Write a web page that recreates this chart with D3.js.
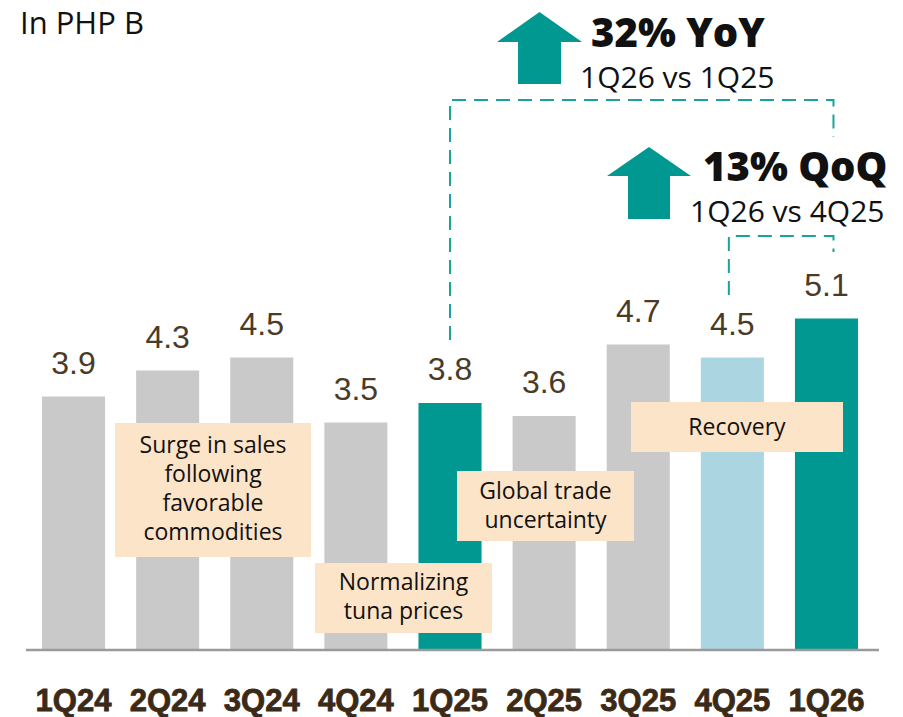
<!DOCTYPE html>
<html>
<head>
  <meta charset="utf-8">
  <title>Sales by quarter</title>
  <script src="https://cdn.jsdelivr.net/npm/d3@7"></script>
  <style>
    body { margin: 0; background: #fff; }
    .val { font-family: "Liberation Sans", Arial, sans-serif; font-size: 32px; fill: #4a3a26; }
    .cat text { font-family: "Liberation Sans", Arial, sans-serif; font-size: 31px; font-weight: bold; fill: #3b2a17; stroke: #3b2a17; stroke-width: 0.8px; }
    .note { font-family: "Open Sans", "Noto Sans", sans-serif; font-size: 23px; fill: #111; }
    .head { font-family: "Open Sans", "Noto Sans", sans-serif; fill: #111; }
  </style>
</head>
<body>
<script>
  // data
  var quarters = ["1Q24", "2Q24", "3Q24", "4Q24", "1Q25", "2Q25", "3Q25", "4Q25", "1Q26"];
  var sales = [3.9, 4.3, 4.5, 3.5, 3.8, 3.6, 4.7, 4.5, 5.1];
  var barKind = ["past", "past", "past", "past", "yearAgo", "past", "past", "lastQ", "current"];
  var noteLines = [
    ["Surge in sales", "following", "favorable", "commodities"],
    ["Normalizing", "tuna prices"],
    ["Global trade", "uncertainty"],
    ["Recovery"]
  ];
  var growthLabels = ["32% YoY", "1Q26 vs 1Q25", "13% QoQ", "1Q26 vs 4Q25"];

  var width = 903, height = 717;
  var teal = "#009891";
  var colors = { past: "#c9c9c9", yearAgo: teal, lastQ: "#abd5e0", current: teal };

  var svg = d3.select("body").append("svg")
    .attr("width", width)
    .attr("height", height);

  var x = d3.scaleBand()
    .domain(quarters)
    .range([42, 858])
    .paddingInner(0.33)
    .paddingOuter(0);

  var y = d3.scaleLinear()
    .domain([0, 10])
    .range([650, 0]);

  var cx = function(q) { return x(q) + x.bandwidth() / 2; };

  // unit label
  svg.append("text")
    .attr("class", "head")
    .attr("x", 20)
    .attr("y", 34)
    .style("font-size", "31px")
    .text("In PHP B");

  // bars
  svg.selectAll("rect.bar")
    .data(quarters)
    .enter()
    .append("rect")
    .attr("class", "bar")
    .attr("x", function(d) { return x(d); })
    .attr("width", x.bandwidth())
    .attr("y", function(d, i) { return y(sales[i]); })
    .attr("height", function(d, i) { return y(0) - y(sales[i]); })
    .attr("fill", function(d, i) { return colors[barKind[i]]; });

  // value labels
  svg.selectAll("text.val")
    .data(quarters)
    .enter()
    .append("text")
    .attr("class", "val")
    .attr("x", function(d) { return cx(d); })
    .attr("y", function(d, i) { return y(sales[i]) - 23; })
    .attr("text-anchor", "middle")
    .text(function(d, i) { return sales[i].toFixed(1); });

  // baseline
  svg.append("line")
    .attr("x1", 26).attr("x2", 879)
    .attr("y1", y(0)).attr("y2", y(0))
    .attr("stroke", "#9a9a9a")
    .attr("stroke-width", 2.5);

  // category axis
  var xAxis = d3.axisBottom(x).tickSize(0);
  var gx = svg.append("g")
    .attr("class", "cat")
    .attr("transform", "translate(0," + y(0) + ")")
    .call(xAxis);
  gx.select(".domain").remove();
  gx.selectAll("text").attr("y", 61).attr("dy", 0);

  // annotation boxes
  var boxes = [
    { x0: 115, x1: 311, y0: 423, y1: 557, base: 453, lh: 29 },
    { x0: 315, x1: 492, y0: 563, y1: 633, base: 590, lh: 29 },
    { x0: 457, x1: 634, y0: 471, y1: 541, base: 499, lh: 29 },
    { x0: 631, x1: 843, y0: 402, y1: 452, base: 435, lh: 29 }
  ];
  boxes.forEach(function(b, i) {
    svg.append("rect")
      .attr("x", b.x0).attr("y", b.y0)
      .attr("width", b.x1 - b.x0).attr("height", b.y1 - b.y0)
      .attr("fill", "#fce4c9");
    noteLines[i].forEach(function(t, j) {
      svg.append("text")
        .attr("class", "note")
        .attr("x", (b.x0 + b.x1) / 2)
        .attr("y", b.base + j * b.lh)
        .attr("text-anchor", "middle")
        .text(t);
    });
  });

  // dashed brackets
  var rightX = cx("1Q26") + 7;
  var dash = function(pts) {
    svg.append("path")
      .attr("d", d3.line()(pts))
      .attr("fill", "none")
      .attr("stroke", "#1aa39c")
      .attr("stroke-width", 2)
      .attr("stroke-dasharray", "14 8");
  };
  dash([[cx("1Q25"), 340], [cx("1Q25"), 100], [rightX, 100], [rightX, 137]]);
  dash([[cx("4Q25") - 3.5, 295], [cx("4Q25") - 3.5, 236], [rightX, 236], [rightX, 252]]);

  // up arrows
  var arrow = function(tipX, tipY, headY, half, shaftHalf, bottom) {
    var pts = [[tipX, tipY], [tipX + half, headY], [tipX + shaftHalf, headY], [tipX + shaftHalf, bottom],
      [tipX - shaftHalf, bottom], [tipX - shaftHalf, headY], [tipX - half, headY]];
    svg.append("path")
      .attr("d", d3.line()(pts) + "Z")
      .attr("fill", teal);
  };
  arrow(539.5, 12, 42, 42.5, 21.5, 84);
  arrow(649, 147, 176, 42, 21, 219);

  // growth texts
  svg.append("text").attr("class", "head")
    .attr("x", 591).attr("y", 47)
    .style("font-size", "40px").style("font-weight", 800)
    .text(growthLabels[0]);
  svg.append("text").attr("class", "head")
    .attr("x", 580).attr("y", 88)
    .style("font-size", "30px")
    .text(growthLabels[1]);
  svg.append("text").attr("class", "head")
    .attr("x", 703).attr("y", 181)
    .style("font-size", "40px").style("font-weight", 800)
    .text(growthLabels[2]);
  svg.append("text").attr("class", "head")
    .attr("x", 690).attr("y", 222)
    .style("font-size", "30px")
    .text(growthLabels[3]);
</script>
</body>
</html>
